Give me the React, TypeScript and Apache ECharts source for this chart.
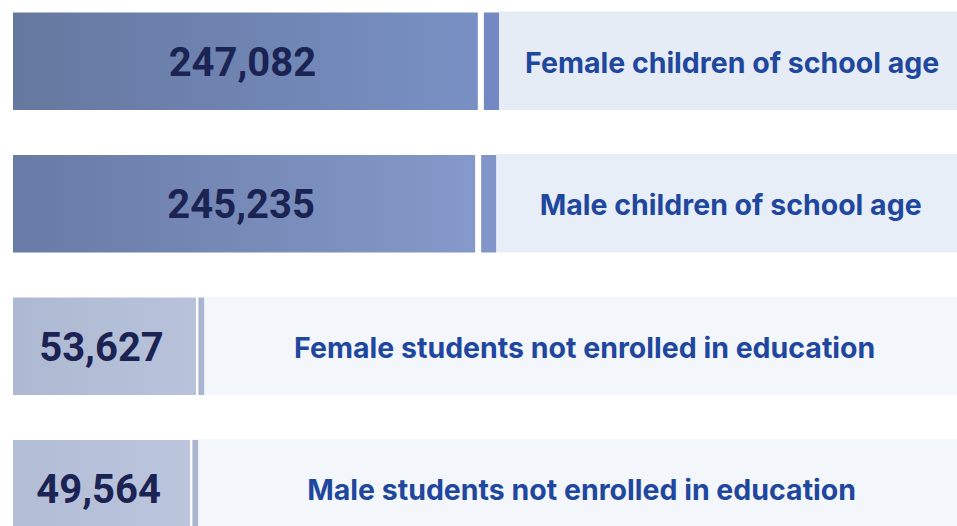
import React, { useEffect, useRef } from "react";
import * as echarts from "echarts";

const categories = [
  "Female children of school age",
  "Male children of school age",
  "Female students not enrolled in education",
  "Male students not enrolled in education",
];
const values = [247082, 245235, 53627, 49564];

const barFrom = ["#65789f", "#687ba6", "#adb9d2", "#b2bdd6"];
const barTo = ["#7890c4", "#8599ca", "#b8c3db", "#bbc5dc"];
const thinColor = ["#7489c3", "#8195c8", "#aab6d1", "#aab6d1"];
const bgColor = ["#e6ecf5", "#e8eef7", "#f3f6fb", "#f3f6fb"];

export default function App() {
  const ref = useRef<HTMLDivElement>(null);
  useEffect(() => {
    document.body.style.margin = "0";
    const chart = echarts.init(ref.current!, null, { renderer: "svg" });
    chart.setOption({
      animation: false,
      grid: { left: 13, right: 0, top: 0, bottom: 0 },
      xAxis: { type: "value", min: -72000, max: 576000, show: false },
      yAxis: { type: "category", data: categories, inverse: true, show: false },
      series: [
        {
          type: "custom",
          clip: false,
          encode: { x: 1, y: 0 },
          data: categories.map((c, i) => [i, values[i]]),
          renderItem: (params: any, api: any) => {
            const i = api.value(0);
            const v = api.value(1);
            const [xEnd, yc] = api.coord([v, i]);
            const band = api.size([0, 1])[1];
            const h = band * 0.685;
            const cs = params.coordSys;
            const x0 = cs.x;
            const right = cs.x + cs.width;
            const w = xEnd - x0;
            const gap = Math.max(1.5, w * 0.013);
            const thin = w * 0.033;
            const y0 = yc - h / 2;
            const bgX = xEnd + gap + thin;
            return {
              type: "group",
              children: [
                {
                  type: "rect",
                  shape: { x: x0, y: y0, width: w, height: h },
                  style: {
                    fill: new echarts.graphic.LinearGradient(0, 0, 1, 0, [
                      { offset: 0, color: barFrom[i] },
                      { offset: 1, color: barTo[i] },
                    ]),
                  },
                },
                {
                  type: "rect",
                  shape: { x: xEnd + gap, y: y0, width: thin, height: h },
                  style: { fill: thinColor[i] },
                },
                {
                  type: "rect",
                  shape: { x: bgX, y: y0 - 1, width: right - bgX, height: h + 1 },
                  style: { fill: bgColor[i] },
                },
                {
                  type: "text",
                  style: {
                    x: x0 + w / 2 - 3,
                    y: yc + 1,
                    text: v.toLocaleString("en-US"),
                    align: "center",
                    verticalAlign: "middle",
                    fontFamily: "Roboto",
                    fontWeight: "bold",
                    fontSize: 40,
                    fill: "#1b2352",
                  },
                },
                {
                  type: "text",
                  style: {
                    x: (bgX + right) / 2 + 4,
                    y: yc + 1,
                    text: categories[i],
                    align: "center",
                    verticalAlign: "middle",
                    fontFamily: "Inter",
                    fontWeight: "bold",
                    fontSize: 28.5,
                    fill: "#1f479e",
                  },
                },
              ],
            };
          },
        },
      ],
    });
    return () => chart.dispose();
  }, []);
  return (
    <div
      ref={ref}
      style={{ position: "absolute", left: 0, top: -10, width: 957, height: 570 }}
    />
  );
}
